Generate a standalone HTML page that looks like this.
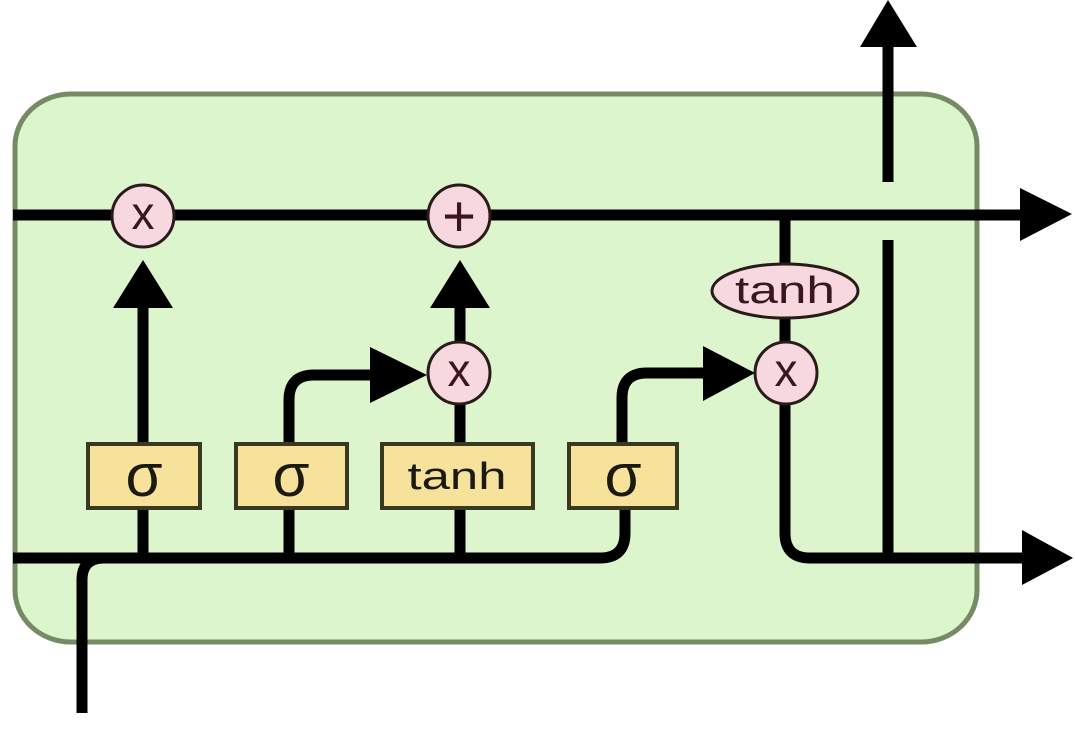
<!DOCTYPE html>
<html>
<head>
<meta charset="utf-8">
<style>
  html,body{margin:0;padding:0;background:#ffffff;}
  svg{display:block;}
  text{font-family:"Liberation Sans", "DejaVu Sans", sans-serif;}
</style>
</head>
<body>
<svg width="1075" height="735" viewBox="0 0 1075 735" xmlns="http://www.w3.org/2000/svg">
  <!-- cell box -->
  <rect x="15" y="94" width="962" height="548" rx="56" ry="52" fill="#ddf5cd" stroke="#768a66" stroke-width="5"/>

  <g stroke="#000" stroke-width="11" fill="none" stroke-linecap="butt">
    <!-- cell state line -->
    <path d="M13 215 H1022"/>
    <!-- bottom hidden/input line -->
    <path d="M13 558 H600 Q625 558 625 533 V508"/>
    <!-- input from bottom -->
    <path d="M82 713 V580 Q82 558 104 558"/>
    <!-- forget gate -->
    <path d="M143 558 V508"/>
    <path d="M143 444 V305"/>
    <!-- input gate sigma -->
    <path d="M289 558 V508"/>
    <path d="M289 444 V400 Q289 375 314 375 H374"/>
    <!-- tanh candidate -->
    <path d="M460 558 V508"/>
    <path d="M460 444 V404"/>
    <path d="M460 342 V305"/>
    <!-- output gate sigma -->
    <path d="M622 444 V398 Q622 373 647 373 H706"/>
    <!-- output path -->
    <path d="M785 215 V266"/>
    <path d="M785 316 V344"/>
    <path d="M785 402 V533 Q785 558 810 558 H1024"/>
    <!-- right vertical -->
    <path d="M888 240 V558"/>
    <path d="M888 182 V44"/>
  </g>

  <!-- arrowheads -->
  <g fill="#000">
    <polygon points="1020,188 1072,214 1020,241"/>
    <polygon points="113,308 173,308 143,260"/>
    <polygon points="430,308 490,308 460,260"/>
    <polygon points="370,347 427,375 370,403"/>
    <polygon points="703,346 755,373 703,401"/>
    <polygon points="1022,530 1073,558 1022,585"/>
    <polygon points="860,47 917,47 888,0"/>
  </g>

  <!-- pointwise op circles -->
  <g fill="#f6d8de" stroke="#2a1a1a" stroke-width="3">
    <circle cx="143" cy="216" r="31"/>
    <circle cx="459" cy="216" r="31"/>
    <circle cx="459" cy="373" r="31"/>
    <circle cx="786" cy="373" r="31"/>
    <ellipse cx="785" cy="291" rx="73" ry="27"/>
  </g>
  <g fill="#3a1620" text-anchor="middle">
    <text x="143" y="229" font-size="46">x</text>
    <text x="459" y="236" font-size="58">+</text>
    <text x="459" y="386" font-size="46">x</text>
    <text x="786" y="386" font-size="46">x</text>
    <text x="785" y="303" font-size="38" textLength="100" lengthAdjust="spacingAndGlyphs">tanh</text>
  </g>

  <!-- gate boxes -->
  <g fill="#f7e29b" stroke="#3a3820" stroke-width="4">
    <rect x="88" y="444" width="112" height="64"/>
    <rect x="236" y="444" width="111" height="64"/>
    <rect x="382" y="444" width="151" height="64"/>
    <rect x="569" y="444" width="108" height="64"/>
  </g>
  <g fill="#1a1a10" text-anchor="middle">
    <text x="144" y="496" font-size="60">σ</text>
    <text x="291" y="496" font-size="60">σ</text>
    <text x="457" y="489" font-size="38" textLength="99" lengthAdjust="spacingAndGlyphs">tanh</text>
    <text x="623" y="496" font-size="60">σ</text>
  </g>
</svg>
</body>
</html>
